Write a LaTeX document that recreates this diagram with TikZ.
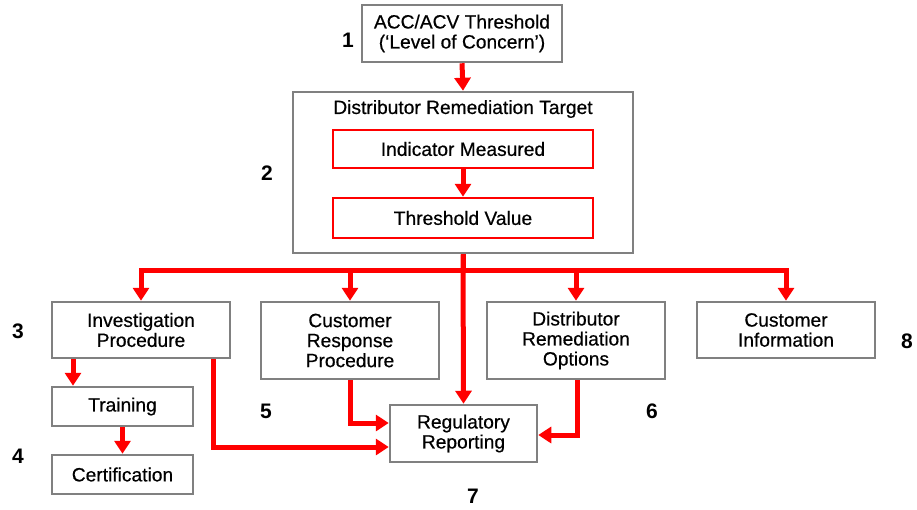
\documentclass[tikz,border=0pt]{standalone}
\usepackage{fontspec}
\setmainfont{Liberation Sans}
\newfontfamily\boxfont[FakeBold=0.5,Ligatures=TeX]{Liberation Sans}
\usetikzlibrary{arrows.meta}
\definecolor{boxgray}{RGB}{128,128,128}
\definecolor{arrred}{RGB}{255,0,0}
\tikzset{
  graybox/.style={draw=boxgray, line width=2.5pt, fill=white, inner sep=0pt, align=center,
    font=\boxfont\fontsize{19.2}{20}\selectfont},
  redbox/.style={draw=arrred, line width=2.5pt, fill=white, inner sep=0pt, align=center,
    font=\boxfont\fontsize{19.2}{20}\selectfont},
  conn/.style={draw=arrred, line width=5pt, -{Triangle[width=16pt,length=13pt]}},
  bus/.style={draw=arrred, line width=5pt},
  numlabel/.style={font=\bfseries\fontsize{21}{22}\selectfont, inner sep=0pt},
  plain/.style={font=\boxfont\fontsize{19.2}{20}\selectfont, inner sep=0pt, align=center}
}
\begin{document}
\begin{tikzpicture}[x=1pt,y=-1pt]
\useasboundingbox (0,0) rectangle (917,509);
% boxes
\node[graybox, minimum width=200pt, minimum height=57pt] (acc) at (462,33.5) {ACC/ACV Threshold\\(‘Level of Concern’)};
\node[graybox, minimum width=340pt, minimum height=161pt] (drt) at (463,172.5) {};
\node[plain] (drttitle) at (463,109) {Distributor Remediation Target};
\node[redbox, minimum width=260pt, minimum height=38pt] (ind) at (463,149) {Indicator Measured};
\node[redbox, minimum width=260pt, minimum height=40pt] (thr) at (463,218) {Threshold Value};
\node[graybox, minimum width=178pt, minimum height=56pt] (inv) at (141,330) {Investigation\\Procedure};
\node[graybox, minimum width=178pt, minimum height=77pt] (crp) at (350,340.5) {Customer\\Response\\Procedure};
\node[graybox, minimum width=178pt, minimum height=77pt] (dro) at (576,340.5) {Distributor\\Remediation\\Options};
\node[graybox, minimum width=178pt, minimum height=56pt] (cin) at (786,330) {Customer\\Information};
\node[graybox, minimum width=141pt, minimum height=39pt] (trn) at (122.5,406.5) {Training};
\node[graybox, minimum width=141pt, minimum height=39pt] (crt) at (122.5,474.5) {Certification};
\node[graybox, minimum width=147pt, minimum height=57pt] (reg) at (463.5,433.5) {Regulatory\\Reporting};
% numbers
\node[numlabel] (n1) at (348,40) {1};
\node[numlabel] (n2) at (267,173) {2};
\node[numlabel] (n3) at (18,331) {3};
\node[numlabel] (n4) at (18,456) {4};
\node[numlabel] (n5) at (266,411) {5};
\node[numlabel] (n6) at (652,411) {6};
\node[numlabel] (n7) at (473,496) {7};
\node[numlabel] (n8) at (907,341) {8};
% connectors
\draw[conn] (acc.south) -- (drt.north);
\draw[conn] (ind.south) -- (thr.north);
\coordinate (busc) at (463,270);
\draw[bus] (drt.south) -- (busc);
\draw[conn] (busc) -| (inv.north);
\draw[conn] (busc) -| (crp.north);
\draw[conn] (busc) -| (dro.north);
\draw[conn] (busc) -| (cin.north);
\draw[conn] (drt.south) -- (reg.north);
\draw[conn] ([xshift=-68pt]inv.south) -- ([xshift=-68pt]inv.south |- trn.north);
\draw[conn] (trn.south) -- (crt.north);
\draw[conn] ([xshift=72pt]inv.south) |- ([yshift=-13.5pt]reg.west);
\draw[conn] (crp.south) |- ([yshift=10.5pt]reg.west);
\draw[conn] ([xshift=1pt]dro.south) |- ([yshift=-1.5pt]reg.east);
\end{tikzpicture}
\end{document}
